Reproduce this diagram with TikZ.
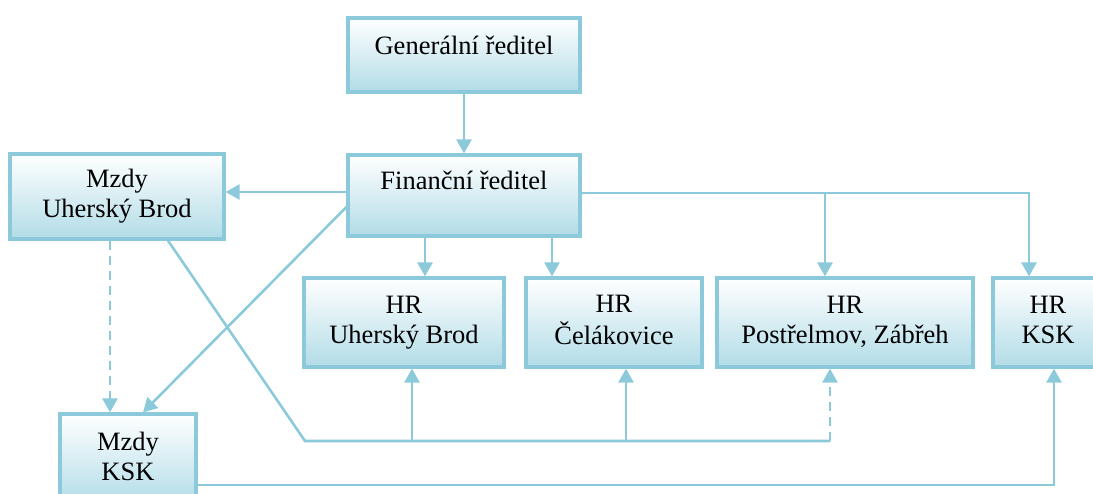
\documentclass[tikz,border=0pt]{standalone}
\usepackage{fontspec}
\setmainfont{Liberation Serif}
\newfontfamily\boxfont{Liberation Serif}
\usetikzlibrary{arrows.meta}

\definecolor{edge}{RGB}{140,202,219}
\definecolor{boxbottom}{RGB}{178,220,231}

\tikzset{
  orgbox/.style={draw=edge, line width=3.2pt, top color=white, bottom color=boxbottom,
    inner sep=0pt, align=center, text=black,
    font=\boxfont\fontsize{26.5}{30}\selectfont},
  twoline/.style={orgbox, minimum height=#1},
  oneline/.style={orgbox, text height=21pt, text depth=#1},
  conn/.style={draw=edge, line width=2.6pt},
  arr/.style={conn, -{Triangle[width=15pt,length=14pt]}},
  dashconn/.style={dash pattern=on 9pt off 6pt}
}

\begin{document}
\begin{tikzpicture}[x=1pt, y=-1pt]
\useasboundingbox (0,0) rectangle (1093,493);

% boxes
\node[oneline=23pt, minimum width=232pt, minimum height=74pt] (gen) at (464,55) {Generální ředitel};
\node[oneline=34pt, minimum width=232pt, minimum height=81pt] (fin) at (464,195.5) {Finanční ředitel};
\node[twoline=85pt, minimum width=214pt] (mzub) at (117,196.5) {\strut Mzdy\\\strut Uherský Brod};
\node[twoline=89pt, minimum width=200pt] (hrub) at (404,322.5) {\strut HR\\\strut Uherský Brod};
\node[twoline=89pt, minimum width=176pt] (hrcel) at (614,322.5) {\strut HR\\\strut Čelákovice};
\node[twoline=89pt, minimum width=256pt] (hrpos) at (845,322.5) {\strut HR\\\strut Postřelmov, Zábřeh};
\node[twoline=89pt, minimum width=110pt] (hrksk) at (1048,322.5) {\strut HR\\\strut KSK};
\node[twoline=90pt, minimum width=136pt] (mzksk) at (128,459) {\strut Mzdy\\\strut KSK};

% column positions of the vertical connectors
\coordinate (xmzdy) at (110,0);
\coordinate (xdiag) at (143,0);
\coordinate (xmzub) at (168,0);
\coordinate (xhrub) at (425,0);
\coordinate (xhrcel) at (552,0);
\coordinate (xhrpos) at (825,0);
\coordinate (xhrksk) at (1029,0);
\coordinate (xupub) at (412,0);
\coordinate (xupcel) at (626,0);
\coordinate (xupksk) at (1054,0);
% bottom collector line
\coordinate (bl) at (305,441);
\coordinate (br) at (830,441);
% exits from the finance box
\coordinate (finw) at ([yshift=3.5pt]fin.west);
\coordinate (finwlow) at ([yshift=-11.5pt]fin.west);
\coordinate (fine) at ([yshift=2.5pt]fin.east);
\coordinate (mzke) at ([yshift=-26pt]mzksk.east);

% connectors from the top
\draw[arr] (gen) -- (fin);
\draw[arr] (finw) -- (finw -| mzub.east);
\draw[arr] (fin.south -| xhrub) -- (hrub.north -| xhrub);
\draw[arr] (fin.south -| xhrcel) -- (hrcel.north -| xhrcel);
\draw[arr] (fine) -| (hrksk.north -| xhrksk);
\draw[arr] (fine -| xhrpos) -- (hrpos.north -| xhrpos);
\draw[arr] (finwlow) -- (mzksk.north -| xdiag);
\draw[arr, dashconn] (mzub.south -| xmzdy) -- (mzksk.north -| xmzdy);

% payroll Uherský Brod to the HR units
\draw[conn] (mzub.south -| xmzub) -- (bl) -- (br);
\draw[arr] (bl -| xupub) -- (hrub.south -| xupub);
\draw[arr] (bl -| xupcel) -- (hrcel.south -| xupcel);
\draw[arr, dashconn] (br) -- (hrpos.south -| br);

% payroll KSK to HR KSK
\draw[arr] (mzke) -| (hrksk.south -| xupksk);
\end{tikzpicture}
\end{document}
